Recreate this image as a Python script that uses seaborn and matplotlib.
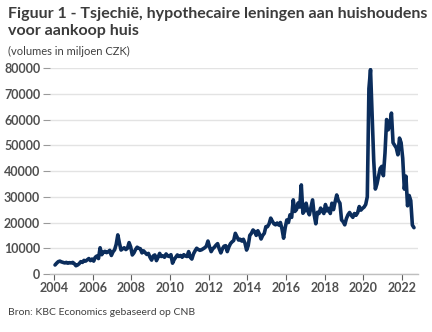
import numpy as np
import pandas as pd
import matplotlib
matplotlib.use("Agg")
import matplotlib.pyplot as plt
import seaborn as sns

# Monthly mortgage lending volumes (million CZK), Jan 2004 - Aug 2022
v2004 = [3500, 4200, 4800, 5000, 4700, 4500, 4300, 4500, 4200, 4400, 4300, 4500]
v2005 = [4000, 3200, 3500, 4000, 4800, 4500, 5300, 5000, 5500, 6000, 5200, 5800]
v2006 = [5000, 6500, 7000, 6000, 10200, 7500, 8500, 8800, 8300, 8600, 9200, 7200]
v2007 = [8600, 9400, 11500, 15200, 12000, 9300, 9800, 10200, 9500, 10000, 12200, 10500]
v2008 = [7400, 8200, 9500, 10400, 10000, 9800, 8200, 9000, 8300, 7600, 8000, 6500]
v2009 = [5400, 7000, 7400, 5200, 6500, 8000, 6800, 7000, 6500, 7800, 7000, 6800]
v2010 = [7500, 4200, 5600, 6500, 7400, 6800, 7200, 6500, 7500, 7000, 6800, 8700]
v2011 = [6500, 5800, 7800, 9000, 10000, 9500, 9200, 9400, 9800, 10200, 10800, 12800]
v2012 = [10500, 8700, 9800, 10400, 11200, 11800, 9800, 8200, 9800, 10800, 11000, 8700]
v2013 = [10500, 11800, 12500, 13000, 15800, 14500, 13200, 13500, 12800, 13500, 12000, 9300]
v2014 = [11000, 15000, 15800, 17100, 16500, 15000, 16800, 15500, 13600, 15000, 15800, 18400]
v2015 = [18400, 19500, 21700, 20500, 19500, 19100, 19800, 19000, 20000, 17500, 13900, 18000]
v2016 = [21000, 20000, 23000, 22000, 28800, 24300, 25000, 27600, 26000, 34600, 23600, 24500]
v2017 = [27500, 24500, 23000, 26000, 28800, 23000, 19500, 24000, 23500, 25600, 24500, 23500]
v2018 = [27000, 24500, 25500, 23500, 27500, 25000, 28000, 30700, 28500, 27500, 21000, 20300]
v2019 = [19100, 21500, 23000, 23900, 22800, 22000, 23500, 22800, 23800, 26200, 24800, 25500]
v2020 = [26000, 27000, 30000, 72000, 79400, 62000, 44000, 33000, 35000, 38000, 41000, 41800]
v2021 = [38200, 47000, 60000, 56000, 58000, 62500, 51000, 50000, 49000, 46300, 52800, 51000]
v2022 = [45000, 33000, 38000, 26500, 30500, 28500, 19000, 18000]

values = (v2004 + v2005 + v2006 + v2007 + v2008 + v2009 + v2010 + v2011 + v2012 +
          v2013 + v2014 + v2015 + v2016 + v2017 + v2018 + v2019 + v2020 + v2021 + v2022)
start_year = 2004
years_ticks = list(range(2004, 2023, 2))
y_ticks = list(range(0, 80001, 10000))

title = "Figuur 1 - Tsjechië, hypothecaire leningen aan huishoudens\nvoor aankoop huis"
subtitle = "(volumes in miljoen CZK)"
source = "Bron: KBC Economics gebaseerd op CNB"

t = start_year + np.arange(len(values)) / 12.0 + 1 / 24
df = pd.DataFrame({"t": t, "v": values})

sns.set_theme(style="white")
plt.rcParams["font.family"] = ["Lato", "DejaVu Sans"]

fig = plt.figure(figsize=(4.32, 3.32), dpi=100)
ax = fig.add_axes([0.1157, 0.1747, 0.967 - 0.1157, 0.795 - 0.1747])

sns.lineplot(data=df, x="t", y="v", ax=ax, color="#0b2d5c", linewidth=2.6)

ax.set_xlim(2003.78, 2022.82)
ax.set_ylim(0, 80000)
ax.set_xticks(years_ticks)
ax.set_xticklabels([str(y) for y in years_ticks])
ax.set_yticks(y_ticks)
ax.set_yticklabels([str(y) for y in y_ticks])
ax.set_xlabel("")
ax.set_ylabel("")
ax.yaxis.grid(True, color="#e3e3e3", linewidth=1)
ax.set_axisbelow(True)
for s in ["top", "right", "left"]:
    ax.spines[s].set_visible(False)
ax.spines["bottom"].set_color("#bfbfbf")
ax.spines["bottom"].set_linewidth(1)
ax.tick_params(axis="y", length=5, width=0.8, color="#9a9a9a", pad=2,
               labelsize=9, labelcolor="#505050", left=True)
ax.tick_params(axis="x", length=4, width=0.8, color="#606060", pad=2,
               labelsize=9, labelcolor="#505050", bottom=True)
for lab in ax.get_xticklabels() + ax.get_yticklabels():
    lab.set_fontweight("bold")

fig.text(0.018, 0.978, title, fontsize=11.5, fontweight="bold", color="#3c3c3c",
         va="top", ha="left", linespacing=1.25)
fig.text(0.018, 0.862, subtitle, fontsize=8, color="#404040", va="top", ha="left")
fig.text(0.018, 0.045, source, fontsize=7.5, color="#404040", va="bottom", ha="left")

fig.savefig("out.png", dpi=100)
